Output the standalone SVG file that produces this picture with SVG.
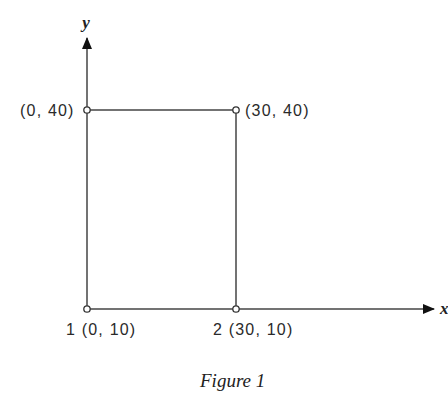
<svg xmlns="http://www.w3.org/2000/svg" width="448" height="397" viewBox="0 0 448 397">
<style>
.ln{stroke:#444;stroke-width:1.5;fill:none}
.t{font-family:"Liberation Sans",Arial,sans-serif;font-size:16px;letter-spacing:1.2px;fill:#2a2a2a}
.pt{fill:#fff;stroke:#333;stroke-width:1.3}
.it{font-family:"Liberation Serif","Times New Roman",serif;font-style:italic;fill:#222}
</style>
<defs>
<marker id="ah" markerWidth="12" markerHeight="10" refX="11" refY="5" orient="auto" markerUnits="userSpaceOnUse">
<path d="M0,0 L12,5 L0,10 Z" fill="#111"/>
</marker>
</defs>
<rect width="448" height="397" fill="#fff"/>
<g id="connectors">
<line class="ln" x1="87" y1="309" x2="87" y2="38" marker-end="url(#ah)"/>
<line class="ln" x1="87" y1="309" x2="434" y2="309" marker-end="url(#ah)"/>
<line class="ln" x1="87" y1="110" x2="236" y2="110"/>
<line class="ln" x1="236" y1="110" x2="236" y2="309"/>
</g>
<g id="axis-y"><text class="it" x="86" y="28" font-size="17" text-anchor="middle" font-weight="bold">y</text></g>
<g id="axis-x"><text class="it" x="440" y="314" font-size="17" font-weight="bold">x</text></g>
<g id="n3"><circle class="pt" cx="87" cy="110" r="3.2"/><text class="t" x="20" y="116">(0, 40)</text></g>
<g id="n4"><circle class="pt" cx="236" cy="110" r="3.2"/><text class="t" x="245" y="116">(30, 40)</text></g>
<g id="n1"><circle class="pt" cx="87" cy="309" r="3.2"/><text class="t" x="66" y="335">1 (0, 10)</text></g>
<g id="n2"><circle class="pt" cx="236" cy="309" r="3.2"/><text class="t" x="213" y="335">2 (30, 10)</text></g>
<g id="caption"><text class="it" x="200" y="387" font-size="19">Figure 1</text></g>
</svg>
